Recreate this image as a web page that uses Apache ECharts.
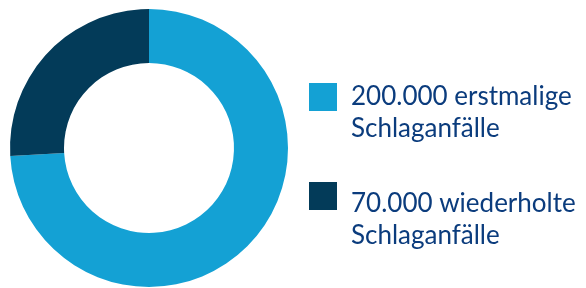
<!DOCTYPE html>
<html>
<head>
<meta charset="utf-8">
<script src="https://cdn.jsdelivr.net/npm/echarts@6/dist/echarts.min.js"></script>
<style>
  html, body { margin: 0; padding: 0; background: #fff; }
  #chart { width: 586px; height: 288px; }
</style>
</head>
<body>
<div id="chart"></div>
<script>
var names = ["200.000 erstmalige\nSchlaganfälle", "70.000 wiederholte\nSchlaganfälle"];
var values = [200000, 70000];
var colors = ["#14a1d4", "#033b59"];

var myChart = echarts.init(document.getElementById("chart"));

var pieData = [];
for (var i = 0; i < names.length; i++) {
    pieData.push({name: names[i], value: values[i], itemStyle: {color: colors[i]}});
}

// one legend per entry, the empty first line pushes the text down next to the square
function makeLegend(name, top, spacer) {
    return {
        orient: 'vertical',
        left: 309,
        top: top,
        padding: 0,
        icon: 'rect',
        itemWidth: 28,
        itemHeight: 28,
        selectedMode: false,
        formatter: function (n) {
            return '{s|}\n{t|' + n + '}';
        },
        textStyle: {
            color: '#0b3c7d',
            fontFamily: 'Lato',
            fontSize: 26,
            rich: {
                s: {fontSize: 10, lineHeight: spacer},
                t: {
                    color: '#0b3c7d',
                    fontFamily: 'Lato',
                    fontSize: 26,
                    lineHeight: 32,
                    padding: [0, 0, 0, 9]
                }
            }
        },
        data: [name]
    };
}

var option = {
    animation: false,
    legend: [
        makeLegend(names[0], 60, 32),
        makeLegend(names[1], 159, 48)
    ],
    series: [
        {
            type: 'pie',
            center: [149, 148],
            radius: [85, 139],
            startAngle: 90,
            silent: true,
            label: {show: false},
            labelLine: {show: false},
            data: pieData
        }
    ]
};

myChart.setOption(option);
</script>
</body>
</html>
